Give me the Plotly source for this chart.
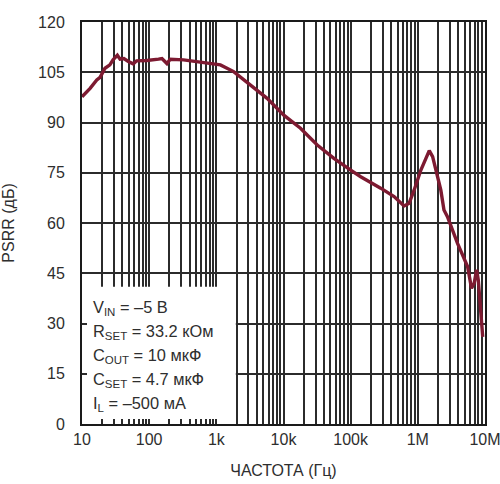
import plotly.graph_objects as go

freq = [10, 13.2, 16.6, 18.6, 22, 26, 29, 33.6, 36.9, 42, 49, 58, 65, 92, 138, 155, 184, 206, 325,
        577, 1150, 1810, 3210, 5700, 10100, 17900, 31800, 56300, 100000, 141000, 280000, 443000,
        624000, 741000, 880000, 1110000, 1480000, 1660000, 2200000, 2450000, 2760000, 3900000,
        5500000, 6300000, 6900000, 7500000, 7940000, 8500000, 9250000]
psrr = [97.7, 100.2, 102.7, 103.5, 106.2, 107.2, 108.7, 110.1, 108.9, 109.1, 108.2, 107.5, 108.4,
        108.5, 108.9, 109.1, 107.6, 108.9, 108.7, 108.1, 107.2, 105.2, 101.2, 97.2, 92.2, 88.3,
        83.3, 79.3, 75.8, 73.8, 70.4, 67.9, 65.1, 65.9, 69.8, 75.8, 81.6, 79.8, 69.8, 63.9, 61.9,
        53.9, 47, 40.5, 42, 46, 43, 34, 26]

decades = [10, 100, 1000, 10000, 100000, 1000000, 10000000]
decade_labels = ["10", "100", "1k", "10k", "100k", "1M", "10M"]
y_ticks = [0, 15, 30, 45, 60, 75, 90, 105, 120]
notes = ["V<sub>IN</sub> = –5 В", "R<sub>SET</sub> = 33.2 кОм", "C<sub>OUT</sub> = 10 мкФ",
         "C<sub>SET</sub> = 4.7 мкФ", "I<sub>L</sub> = –500 мА"]
# extent of the white note panel (data units)
box_x = [10, 1950, 1950, 10, 10]
box_y = [0, 0, 41, 41, 0]

FONT = "Liberation Sans, Arial, sans-serif"
GRID = "#2b2b2b"
TXT = "#2e2e2e"

fig = go.Figure()
# white panel drawn as a trace: above the grid, below the axis ticks
fig.add_trace(go.Scatter(x=box_x, y=box_y, mode="lines", fill="toself",
                         fillcolor="white", line=dict(width=0, color="white"),
                         hoverinfo="skip"))
fig.add_trace(go.Scatter(x=freq, y=psrr, mode="lines",
                         line=dict(color="#7d1a31", width=3.4), hoverinfo="skip"))

fig.update_layout(
    width=500, height=484,
    margin=dict(l=82, r=15, t=22, b=60),
    paper_bgcolor="white", plot_bgcolor="white",
    showlegend=False,
    font=dict(family=FONT, size=16, color=TXT),
)
fig.update_xaxes(
    type="log", range=[1, 7], automargin=False,
    tickmode="array", tickvals=decades, ticktext=decade_labels,
    ticklabeloverflow="allow",
    ticks="inside", ticklen=5, tickwidth=2, tickcolor=GRID,
    showgrid=True, gridcolor=GRID, gridwidth=2,
    minor=dict(dtick="D1", ticks="inside", ticklen=5, tickwidth=2, tickcolor=GRID,
               showgrid=True, gridcolor=GRID, gridwidth=2),
    showline=True, linecolor="#1a1a1a", linewidth=2, mirror=True,
    tickfont=dict(size=16, color=TXT),
    title=dict(text="ЧАСТОТА (Гц)", font=dict(size=16, color=TXT), standoff=18),
    zeroline=False,
)
fig.update_yaxes(
    range=[0, 120], automargin=False, tickmode="array", tickvals=y_ticks,
    ticks="inside", ticklen=5, tickwidth=2, tickcolor=GRID,
    showgrid=True, gridcolor=GRID, gridwidth=2,
    showline=True, linecolor="#1a1a1a", linewidth=2, mirror=True,
    tickfont=dict(size=16, color=TXT), ticklabelstandoff=12,
    title=dict(text="PSRR (дБ)", font=dict(size=16, color=TXT), standoff=23),
    zeroline=False,
)

plot_h = 402
for i, t in enumerate(notes):
    py = 308 + i * 24
    fig.add_annotation(xref="paper", yref="paper", x=(91 - 82) / 403, y=(424 - py) / plot_h,
                       xanchor="left", yanchor="middle", text=t, showarrow=False,
                       font=dict(size=16.4, color=TXT, family=FONT), align="left")

# remove the default 8px page margin so the 500x484 figure fills the window exactly
fig.write_html("out.html", config={"displayModeBar": False},
               post_script="document.body.style.margin='0';document.body.style.overflow='hidden';")
